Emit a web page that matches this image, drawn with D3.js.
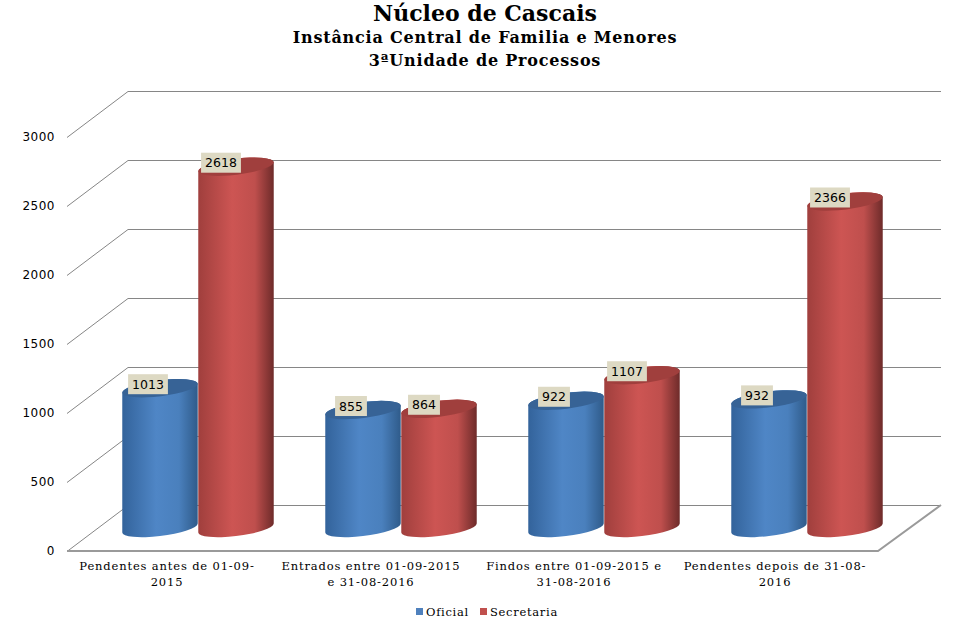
<!DOCTYPE html>
<html>
<head>
<meta charset="utf-8">
<style>
  body { margin: 0; background: #fff; }
  text { fill: #000; }
  .tick text { font-family: "DejaVu Sans", sans-serif; font-size: 12px; letter-spacing: 0.5px; }
  .val { font-family: "DejaVu Sans", sans-serif; font-size: 12.5px; }
  .cat { font-family: "DejaVu Serif", serif; font-size: 11.5px; letter-spacing: 0.85px; }
  .leg { font-family: "DejaVu Serif", serif; font-size: 11.5px; letter-spacing: 0.7px; }
  .ttl { font-family: "DejaVu Serif", serif; font-weight: bold; text-anchor: middle; }
</style>
</head>
<body>
<svg id="chart" width="970" height="629"></svg>
<script src="https://d3js.org/d3.v7.min.js"></script>
<script>
  const categories = [
    ['Pendentes antes de 01-09-', '2015'],
    ['Entrados entre 01-09-2015', 'e 31-08-2016'],
    ['Findos entre 01-09-2015 e', '31-08-2016'],
    ['Pendentes depois de 31-08-', '2016']
  ]
  const oficial = [1013, 855, 922, 932]
  const secretaria = [2618, 864, 1107, 2366]
  const seriesNames = ['Oficial', 'Secretaria']
  const yTicks = [0, 500, 1000, 1500, 2000, 2500, 3000]

  const svg = d3.select('#chart')
  const defs = svg.append('defs')

  // titles
  svg.append('text').attr('class', 'ttl').attr('x', 485).attr('y', 21).style('font-size', '22px').text('Núcleo de Cascais')
  svg.append('text').attr('class', 'ttl').attr('x', 485).attr('y', 43).style('font-size', '16px').style('letter-spacing', '0.8px').text('Instância Central de Familia e Menores')
  svg.append('text').attr('class', 'ttl').attr('x', 485).attr('y', 66).style('font-size', '16px').style('letter-spacing', '0.8px').text('3ªUnidade de Processos')

  // front edge of the floor, the walls sit behind it
  const yFront = d3.scaleLinear().domain([0, 3000]).range([551, 137])
  const depthX = 61
  const depthY = -46
  const backRight = 941
  const x = d3.scaleBand().domain(d3.range(4)).range([58, 870])

  const grid = svg.append('g').attr('stroke', '#868686').attr('fill', 'none')
  grid.selectAll('path')
    .data(yTicks)
    .enter()
    .append('path')
    .attr('d', d => {
      const y = yFront(d) + 0.5
      return `M67,${y}L${67 + depthX},${y + depthY}H${backRight}`
    })

  // floor
  svg.append('path')
    .attr('d', `M67,${yFront(0)}L878,${yFront(0)}L${backRight},${yFront(0) + depthY}`)
    .attr('fill', 'none')
    .attr('stroke', '#9a9a9a')
    .attr('stroke-width', 2)

  // y axis
  svg.append('g')
    .attr('transform', 'translate(61,0)')
    .call(d3.axisLeft(yFront).tickValues(yTicks).tickFormat(d3.format('d')).tickSize(0).tickPadding(6))
    .call(g => g.select('.domain').remove())

  // category labels
  const catCenters = [167, 371, 574, 775]
  const cat = svg.append('g').selectAll('text')
    .data(categories)
    .enter()
    .append('text')
    .attr('class', 'cat')
    .attr('text-anchor', 'middle')
  cat.selectAll('tspan')
    .data((d, i) => d.map(t => ({ t, i })))
    .enter()
    .append('tspan')
    .attr('x', d => catCenters[d.i])
    .attr('y', (d, j) => 570 + j * 16)
    .text(d => d.t)

  // gradients for the cylinders
  function gradient(id, left, mid, right) {
    const g = defs.append('linearGradient').attr('id', id)
    g.append('stop').attr('offset', '0%').attr('stop-color', left)
    g.append('stop').attr('offset', '45%').attr('stop-color', mid)
    g.append('stop').attr('offset', '75%').attr('stop-color', d3.interpolateRgb(right, mid)(0.85))
    g.append('stop').attr('offset', '100%').attr('stop-color', right)
  }
  gradient('gradBlue', '#33639b', '#4f86c6', '#2f5b8a')
  gradient('gradRed', '#a03f3d', '#cd5553', '#6e2b2a')

  // the bars stand half way into the floor
  const yBar = v => yFront(v) - 23
  const rx = 38
  const ry = 8
  const tilt = -7 * Math.PI / 180
  const t0 = Math.atan(-(ry / rx) * Math.tan(tilt))
  const tx = rx * Math.cos(t0) * Math.cos(tilt) - ry * Math.sin(t0) * Math.sin(tilt)
  const ty = rx * Math.cos(t0) * Math.sin(tilt) + ry * Math.sin(t0) * Math.cos(tilt)
  const rotDeg = tilt * 180 / Math.PI

  const series = [
    { vals: oficial, fill: 'url(#gradBlue)', top: '#376396', dx: 102, lab: -12 },
    { vals: secretaria, fill: 'url(#gradRed)', top: '#a03f3d', dx: 178, lab: -15 }
  ]

  series.forEach(s => {
    const g = svg.append('g')
    const bars = g.selectAll('g').data(s.vals).enter().append('g')
    const cx = (d, i) => x(i) + s.dx
    bars.append('path')
      .attr('fill', s.fill)
      .attr('d', (d, i) => {
        const c = cx(d, i)
        const t = yBar(d)
        const b = yBar(0)
        return `M${c - tx},${t - ty}` +
          `L${c - tx},${b - ty}` +
          `A${rx},${ry} ${rotDeg} 0 0 ${c + tx},${b + ty}` +
          `L${c + tx},${t + ty}` +
          `A${rx},${ry} ${rotDeg} 0 0 ${c - tx},${t - ty}Z`
      })
    bars.append('ellipse')
      .attr('fill', s.top)
      .attr('rx', rx)
      .attr('ry', ry)
      .attr('transform', (d, i) => `translate(${cx(d, i)},${yBar(d)}) rotate(${rotDeg})`)
  })

  // value labels go on top of everything
  series.forEach(s => {
    s.vals.forEach((d, i) => {
      const c = x(i) + s.dx + s.lab
      const y = yBar(d) - 4
      const lab = svg.append('g')
      const txt = lab.append('text')
        .attr('class', 'val')
        .attr('x', c)
        .attr('y', y + 4.5)
        .attr('text-anchor', 'middle')
        .text(d)
      const w = txt.node().getBBox().width + 8
      lab.insert('rect', 'text')
        .attr('x', c - w / 2)
        .attr('y', y - 10)
        .attr('width', w)
        .attr('height', 20)
        .attr('fill', '#ddd9c3')
    })
  })

  // legend
  const legX = [416, 480]
  const legColors = ['#4f81bd', '#c0504d']
  const leg = svg.append('g').selectAll('g').data(seriesNames).enter().append('g')
  leg.append('rect')
    .attr('x', (d, i) => legX[i])
    .attr('y', 608)
    .attr('width', 7)
    .attr('height', 7)
    .attr('fill', (d, i) => legColors[i])
  leg.append('text')
    .attr('class', 'leg')
    .attr('x', (d, i) => legX[i] + 10)
    .attr('y', 616)
    .text(d => d)
</script>
</body>
</html>
